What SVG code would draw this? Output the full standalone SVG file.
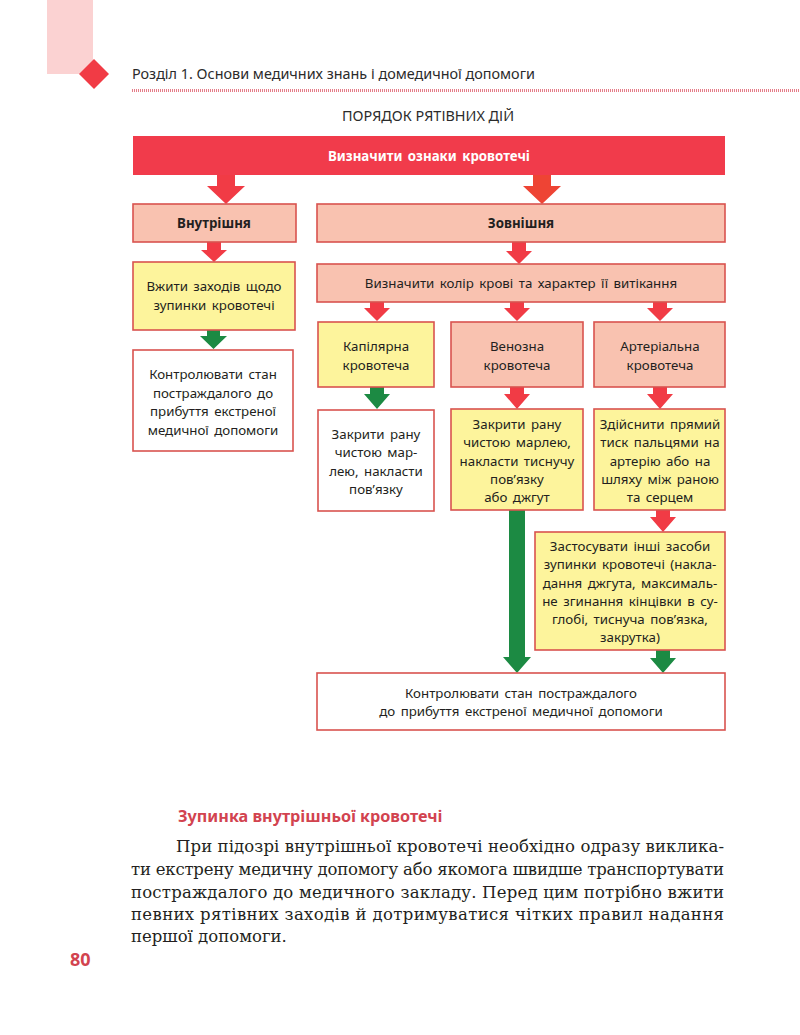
<svg xmlns="http://www.w3.org/2000/svg" width="800" height="1035" viewBox="0 0 800 1035">
<style>
.bg{fill:#ffffff}
.t{font-family:"Noto Sans","Open Sans","Liberation Sans",sans-serif;font-size:13.3px;fill:#231f20;text-anchor:middle;word-spacing:2px}
.b{font-weight:bold}
.w{fill:#ffffff;font-weight:bold}
.pink{fill:#f9c2b0;stroke:#d9534f;stroke-width:1.6}
.yel{fill:#fdf49c;stroke:#d9534f;stroke-width:1.6}
.wht{fill:#ffffff;stroke:#d9534f;stroke-width:1.6}
.top{fill:#f13b4b}
.ar{fill:#f13b45}
.ar2{fill:#ee4434}
.ag{fill:#1c8a43}
.hdr{font-family:"Noto Sans","Open Sans","Liberation Sans",sans-serif;font-size:14.4px;fill:#2b2b2b}
.body{font-family:"DejaVu Serif","Liberation Serif",serif;font-size:16.5px;fill:#231f20}
.red{font-family:"Noto Sans","Open Sans","Liberation Sans",sans-serif;font-weight:bold;fill:#d2434f}
</style>
<rect class="bg" x="0" y="0" width="800" height="1035"/>

<g id="header">
  <rect x="47" y="0" width="46" height="74" fill="#fbd2d2"/>
  <polygon points="94,59 109,74 94,89 79,74" fill="#f13b45"/>
  <text class="hdr" x="132" y="79">Розділ 1. Основи медичних знань і домедичної допомоги</text>
  <line x1="132" y1="90.5" x2="800" y2="90.5" stroke="#e57c88" stroke-width="3" stroke-dasharray="1 1"/>
  <text class="hdr" x="428" y="121" text-anchor="middle" font-size="13">ПОРЯДОК РЯТІВНИХ ДІЙ</text>
</g>

<g id="connectors">
  <polygon class="ar" points="217,175 235,175 235,186 245,186 226,204 207,186 217,186"/>
  <polygon class="ar2" points="533,175 551,175 551,186 561,186 542,204 523,186 533,186"/>
  <polygon class="ar" points="207,242 221,242 221,250 227,250 214,262 201,250 207,250"/>
  <polygon class="ar" points="512,242 526,242 526,251 532,251 519,264 506,251 512,251"/>
  <polygon class="ag" points="207,330 220,330 220,336 227,336 213.5,349 200,336 207,336"/>
  <polygon class="ar" points="370,302 384,302 384,308 390,308 377,321 364,308 370,308"/>
  <polygon class="ar" points="510,302 524,302 524,308 530,308 517,321 504,308 510,308"/>
  <polygon class="ar" points="653,302 667,302 667,308 673,308 660,321 647,308 653,308"/>
  <polygon class="ag" points="370,387 384,387 384,394 390,394 377,409 364,394 370,394"/>
  <polygon class="ar" points="510,387 524,387 524,394 530,394 517,409 504,394 510,394"/>
  <polygon class="ar" points="653,387 667,387 667,394 673,394 660,409 647,394 653,394"/>
  <polygon class="ag" points="509,510 525,510 525,657 531,657 517,673 503,657 509,657"/>
  <polygon class="ar" points="656,510 670,510 670,517 676,517 663,532 650,517 656,517"/>
  <polygon class="ag" points="656,650 670,650 670,658 676,658 663,673 650,658 656,658"/>
</g>

<g id="n-top">
  <rect class="top" x="133" y="136" width="592" height="39"/>
  <text class="t w" x="429" y="161">Визначити ознаки кровотечі</text>
</g>
<g id="n-internal">
  <rect class="pink" x="133" y="204" width="163" height="38"/>
  <text class="t b" x="214" y="228">Внутрішня</text>
</g>
<g id="n-external">
  <rect class="pink" x="317" y="204" width="408" height="38"/>
  <text class="t b" x="521" y="228">Зовнішня</text>
</g>
<g id="n-stop">
  <rect class="yel" x="133" y="262" width="162" height="68"/>
  <text class="t" x="214" y="291">Вжити заходів щодо</text>
  <text class="t" x="214" y="310">зупинки кровотечі</text>
</g>
<g id="n-control1">
  <rect class="wht" x="133" y="350" width="160" height="101"/>
  <text class="t" x="213" y="379">Контролювати стан</text>
  <text class="t" x="213" y="398">постраждалого до</text>
  <text class="t" x="213" y="416">прибуття екстреної</text>
  <text class="t" x="213" y="435">медичної допомоги</text>
</g>
<g id="n-color">
  <rect class="pink" x="317" y="264" width="408" height="38"/>
  <text class="t" x="521" y="288">Визначити колір крові та характер її витікання</text>
</g>
<g id="n-capillary">
  <rect class="yel" x="318" y="322" width="116" height="65"/>
  <text class="t" x="376" y="351">Капілярна</text>
  <text class="t" x="376" y="370">кровотеча</text>
</g>
<g id="n-venous">
  <rect class="pink" x="451" y="322" width="132" height="65"/>
  <text class="t" x="517" y="351">Венозна</text>
  <text class="t" x="517" y="370">кровотеча</text>
</g>
<g id="n-arterial">
  <rect class="pink" x="594" y="322" width="131" height="65"/>
  <text class="t" x="660" y="351">Артеріальна</text>
  <text class="t" x="660" y="370">кровотеча</text>
</g>
<g id="n-cap-action">
  <rect class="wht" x="318" y="410" width="116" height="101"/>
  <text class="t" x="376" y="439">Закрити рану</text>
  <text class="t" x="376" y="457">чистою мар-</text>
  <text class="t" x="376" y="476">лею, накласти</text>
  <text class="t" x="376" y="494">пов’язку</text>
</g>
<g id="n-ven-action">
  <rect class="yel" x="451" y="409" width="132" height="101"/>
  <text class="t" x="517" y="429">Закрити рану</text>
  <text class="t" x="517" y="447">чистою марлею,</text>
  <text class="t" x="517" y="466">накласти тиснучу</text>
  <text class="t" x="517" y="484">пов’язку</text>
  <text class="t" x="517" y="502">або джгут</text>
</g>
<g id="n-art-action">
  <rect class="yel" x="594" y="409" width="131" height="101"/>
  <text class="t" x="660" y="429">Здійснити прямий</text>
  <text class="t" x="660" y="447">тиск пальцями на</text>
  <text class="t" x="660" y="466">артерію або на</text>
  <text class="t" x="660" y="484">шляху між раною</text>
  <text class="t" x="660" y="502">та серцем</text>
</g>
<g id="n-other">
  <rect class="yel" x="535" y="532" width="190" height="118"/>
  <text class="t" x="630" y="551">Застосувати інші засоби</text>
  <text class="t" x="630" y="569">зупинки кровотечі (накла-</text>
  <text class="t" x="630" y="588">дання джгута, максималь-</text>
  <text class="t" x="630" y="606">не згинання кінцівки в су-</text>
  <text class="t" x="630" y="624">глобі, тиснуча пов’язка,</text>
  <text class="t" x="630" y="642">закрутка)</text>
</g>
<g id="n-control2">
  <rect class="wht" x="317" y="673" width="408" height="57"/>
  <text class="t" x="521" y="698">Контролювати стан постраждалого</text>
  <text class="t" x="521" y="716">до прибуття екстреної медичної допомоги</text>
</g>

<g id="article">
  <text class="red" x="178" y="822" font-size="16.2">Зупинка внутрішньої кровотечі</text>
  <text class="body" x="176" y="852" textLength="548" lengthAdjust="spacing">При підозрі внутрішньої кровотечі необхідно одразу виклика-</text>
  <text class="body" x="131" y="875" textLength="593" lengthAdjust="spacing">ти екстрену медичну допомогу або якомога швидше транспортувати</text>
  <text class="body" x="131" y="898" textLength="593" lengthAdjust="spacing">постраждалого до медичного закладу. Перед цим потрібно вжити</text>
  <text class="body" x="131" y="920" textLength="593" lengthAdjust="spacing">певних рятівних заходів й дотримуватися чітких правил надання</text>
  <text class="body" x="131" y="942">першої допомоги.</text>
  <text class="red" x="70" y="966" font-size="18">80</text>
</g>
</svg>
